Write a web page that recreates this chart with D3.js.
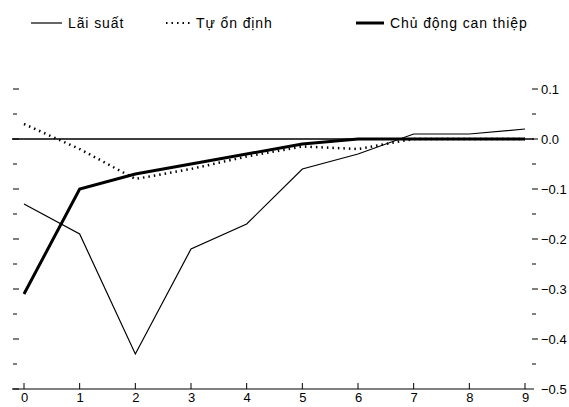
<!DOCTYPE html>
<html>
<head>
<meta charset="utf-8">
<script src="https://cdn.jsdelivr.net/npm/d3@7"></script>
<style>
  body { margin: 0; background: #fff; }
  text { font-family: "Liberation Sans", Arial, sans-serif; }
</style>
</head>
<body>
<svg width="569" height="407"></svg>
<script>
// data
var periods = [0, 1, 2, 3, 4, 5, 6, 7, 8, 9];
var laiSuat = [-0.13, -0.19, -0.43, -0.22, -0.17, -0.06, -0.03, 0.01, 0.01, 0.02];
var tuOnDinh = [0.03, -0.02, -0.08, -0.06, -0.035, -0.015, -0.02, 0, 0, 0];
var chuDong = [-0.31, -0.10, -0.07, -0.05, -0.03, -0.01, 0, 0, 0, 0];
var yTicks = [0.1, 0.0, -0.1, -0.2, -0.3, -0.4, -0.5];
var seriesNames = ["Lãi suất", "Tự ổn định", "Chủ động can thiệp"];

var svg = d3.select("svg");

var x = d3.scaleLinear().domain([0, 9]).range([24, 525]);
var y = d3.scaleLinear().domain([-0.5, 0.1]).range([389, 89]);

var left = 12, right = 534;

// tick marks every 0.05, no labels on the left
var minor = d3.range(-0.5, 0.101, 0.05).map(function(d) { return Math.round(d * 100) / 100; });
function isMajor(d) { return Math.abs(Math.round(d * 100) % 10) === 0; }

svg.append("g").selectAll("line")
  .data(minor)
  .enter().append("line")
  .attr("x1", 13)
  .attr("x2", function(d) { return isMajor(d) ? 19 : 17; })
  .attr("y1", function(d) { return y(d); })
  .attr("y2", function(d) { return y(d); })
  .attr("stroke", "#000").attr("stroke-width", 1);

svg.append("g").selectAll("line")
  .data(minor.filter(function(d) { return d > -0.5; }))
  .enter().append("line")
  .attr("x1", 532)
  .attr("x2", function(d) { return isMajor(d) ? 538 : 536; })
  .attr("y1", function(d) { return y(d); })
  .attr("y2", function(d) { return y(d); })
  .attr("stroke", "#000").attr("stroke-width", 1);

svg.append("g").selectAll("text")
  .data(yTicks)
  .enter().append("text")
  .attr("x", 541)
  .attr("y", function(d) { return y(d); })
  .attr("dy", "0.35em")
  .attr("font-size", "13px")
  .text(function(d) { return d3.format(".1f")(d); });

// x axis
var xAxis = svg.append("g")
  .attr("transform", "translate(0," + y(-0.5) + ")")
  .call(d3.axisBottom(x).tickValues(periods).tickSize(0).tickPadding(4).tickFormat(d3.format("d")));
xAxis.select(".domain").remove();
xAxis.selectAll("text").attr("font-size", "13px").attr("font-family", "Liberation Sans, Arial, sans-serif").attr("fill", "#000");
xAxis.append("line").attr("x1", left).attr("x2", right).attr("y1", 0).attr("y2", 0).attr("stroke", "#000");
xAxis.selectAll(".up").data(periods).enter().append("line")
  .attr("x1", function(d) { return x(d); }).attr("x2", function(d) { return x(d); })
  .attr("y1", 0).attr("y2", -6).attr("stroke", "#000");

// zero line
svg.append("line")
  .attr("x1", left).attr("x2", right)
  .attr("y1", y(0)).attr("y2", y(0))
  .attr("stroke", "#000").attr("stroke-width", 1.5);

var line = d3.line()
  .x(function(d, i) { return x(periods[i]); })
  .y(function(d) { return y(d); });

svg.append("path").datum(laiSuat)
  .attr("d", line).attr("fill", "none").attr("stroke", "#000").attr("stroke-width", 1.2);
svg.append("path").datum(tuOnDinh)
  .attr("d", line).attr("fill", "none").attr("stroke", "#000").attr("stroke-width", 2.5)
  .attr("stroke-dasharray", "1.5,4");
svg.append("path").datum(chuDong)
  .attr("d", line).attr("fill", "none").attr("stroke", "#000").attr("stroke-width", 3);

// legend
var legend = [
  { x: 31, w: 31, width: 1.2, dash: null },
  { x: 166, w: 24, width: 2, dash: "1.5,4" },
  { x: 356, w: 28, width: 3, dash: null }
];
var lg = svg.append("g");
legend.forEach(function(l, i) {
  lg.append("line")
    .attr("x1", l.x).attr("x2", l.x + l.w).attr("y1", 23).attr("y2", 23)
    .attr("stroke", "#000").attr("stroke-width", l.width)
    .attr("stroke-dasharray", l.dash);
  lg.append("text")
    .attr("x", l.x + l.w + 6).attr("y", 23).attr("dy", "0.35em")
    .attr("font-size", "14px")
    .attr("letter-spacing", "0.9px")
    .text(seriesNames[i]);
});
</script>
</body>
</html>
